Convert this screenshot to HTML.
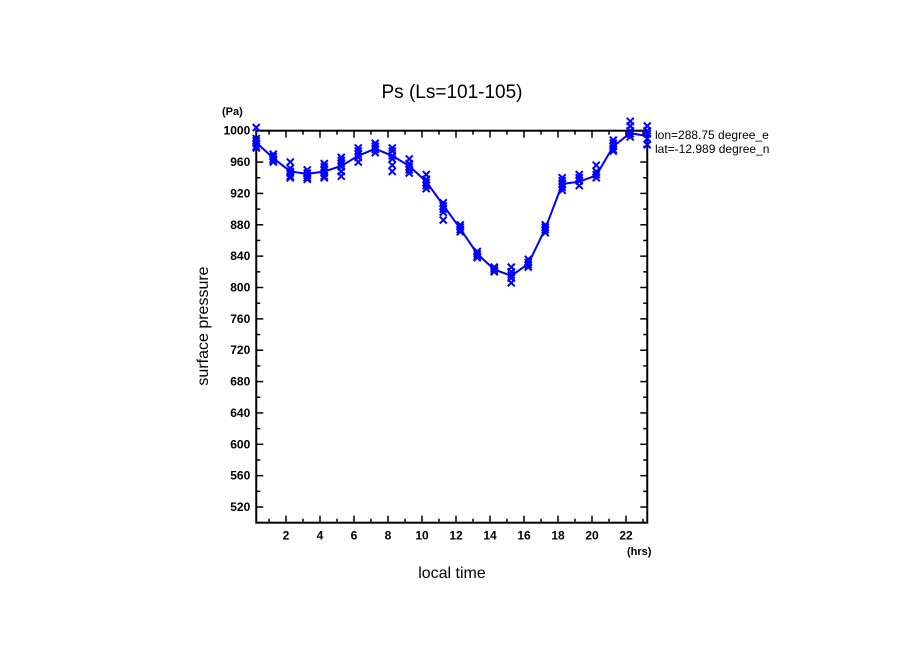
<!DOCTYPE html>
<html><head><meta charset="utf-8"><style>
body{margin:0;background:#fff}
svg text{font-family:"Liberation Sans",sans-serif;fill:#000}
</style></head><body>
<svg id="c" width="904" height="654" xmlns="http://www.w3.org/2000/svg"></svg>
<script>
const hours=[0.25,1.25,2.25,3.25,4.25,5.25,6.25,7.25,8.25,9.25,10.25,11.25,12.25,13.25,14.25,15.25,16.25,17.25,18.25,19.25,20.25,21.25,22.25,23.25];
const meanPs=[985,965,948,945,948,955,968,977,968,955,935,905,875,843,823,815,830,875,932,935,943,980,997,993];
const samples=[
[1004,990,987,984,980,978],[970,967,964,962,960],[960,952,948,946,942,940],[950,946,943,940,938],[958,954,950,946,942,940],[966,962,958,954,948,942],[978,974,970,966,960],[984,980,976,972],[978,974,968,964,956,948],[964,958,954,950,946],[944,938,934,930,926],[908,904,900,896,886],[880,877,874,871],[846,843,840,838],[826,824,822,820],[826,820,816,812,806],[836,832,829,826],[880,877,874,870],[940,936,932,928,924],[944,940,936,930],[956,948,944,940],[988,984,980,976,974],[1012,1006,1000,996,992],[1006,1000,996,990,982]];
const yTicks=[520,560,600,640,680,720,760,800,840,880,920,960,1000];
const xTicks=[2,4,6,8,10,12,14,16,18,20,22];
const X0=256.25,X1=647.25,XMIN=0.25,XMAX=23.25,Y0=522.7,Y1=130.7,YMIN=500,YMAX=1000;
const sx=v=>X0+(v-XMIN)/(XMAX-XMIN)*(X1-X0);
const sy=v=>Y0-(v-YMIN)/(YMAX-YMIN)*(Y0-Y1);
const svg=document.getElementById('c');const NS='http://www.w3.org/2000/svg';
function mk(t,a,txt){const e=document.createElementNS(NS,t);for(const k in a)e.setAttribute(k,a[k]);if(txt!==undefined)e.textContent=txt;svg.appendChild(e);return e;}
let e;
e=mk('rect',{x:X0,y:Y1,width:X1-X0,height:Y0-Y1,fill:'none',stroke:'#000','stroke-width':2});


for(let v=500;v<=1000;v+=20){const maj=v%40===0&&v>=520;const L=maj?7:4;
 mk('line',{x1:X0,x2:X0+L,y1:sy(v),y2:sy(v),stroke:'#000','stroke-width':1.5});
 mk('line',{x1:X1,x2:X1-L,y1:sy(v),y2:sy(v),stroke:'#000','stroke-width':1.5});}
for(let h=1;h<=23;h++){const L=h%2===0?7:4;
 mk('line',{x1:sx(h),x2:sx(h),y1:Y0,y2:Y0-L,stroke:'#000','stroke-width':1.5});
 mk('line',{x1:sx(h),x2:sx(h),y1:Y1,y2:Y1+L,stroke:'#000','stroke-width':1.5});}
yTicks.forEach(v=>{e=mk('text',{x:X0-6,y:sy(v)+4,'text-anchor':'end','font-size':12,'font-weight':'bold'},v);

});
xTicks.forEach(v=>{e=mk('text',{x:sx(v),y:Y0+17,'text-anchor':'middle','font-size':12,'font-weight':'bold'},v);

});
samples.forEach((arr,i)=>arr.forEach(v=>{const cx=sx(hours[i]),cy=sy(v);
 e=mk('path',{d:`M${cx-3.5} ${cy-3.5}L${cx+3.5} ${cy+3.5}M${cx+3.5} ${cy-3.5}L${cx-3.5} ${cy+3.5}`,stroke:'#0000ff','stroke-width':2});
 
 }));
e=mk('polyline',{points:hours.map((h,i)=>sx(h)+','+sy(meanPs[i])).join(' '),fill:'none',stroke:'#0000ff','stroke-width':2});


e=mk('text',{x:452,y:98,'text-anchor':'middle','font-size':19},'Ps (Ls=101-105)');


e=mk('text',{x:222,y:115,'font-size':11,'font-weight':'bold'},'(Pa)');


e=mk('text',{x:627,y:555,'font-size':11,'font-weight':'bold'},'(hrs)');


e=mk('text',{x:452,y:578,'text-anchor':'middle','font-size':16},'local time');


e=mk('text',{x:0,y:0,'text-anchor':'middle','font-size':16,transform:'translate(208,326) rotate(-90)'},'surface pressure');


e=mk('text',{x:655,y:139,'font-size':12},'lon=288.75 degree_e');


e=mk('text',{x:655,y:153,'font-size':12},'lat=-12.989 degree_n');


e=mk('rect',{x:778,y:125,width:126,height:35,fill:'#fff'});


</script>
</body></html>
